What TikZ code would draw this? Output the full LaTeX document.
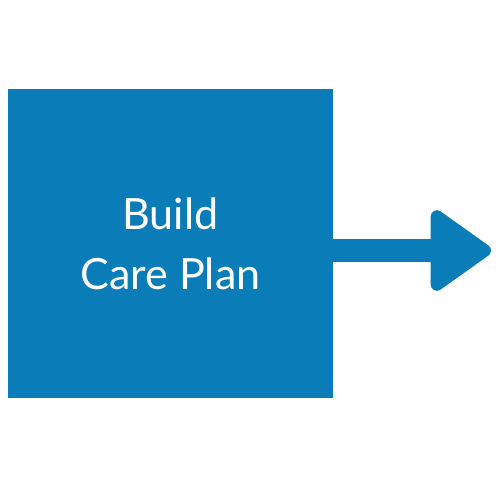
\documentclass[tikz,border=0pt]{standalone}
\usepackage{fontspec}
\setmainfont{Lato}
\usetikzlibrary{arrows.meta}
\definecolor{planblue}{HTML}{0A7DB8}
\begin{document}
\begin{tikzpicture}
  \useasboundingbox (0,0) rectangle (10,10);
  \node[fill=planblue, minimum width=6.5cm, minimum height=6.18cm, text=white,
        align=center, font=\fontsize{24.5}{34}\selectfont] (B) at (3.41,5.13) {Build\\Care Plan};
  \coordinate (E) at (9.82,4.99);
  \draw[planblue, line width=0.46cm,
        -{Triangle[length=1.3cm, width=1.78cm, round, line width=7pt]}] (B.east |- E) -- (E);
\end{tikzpicture}
\end{document}
